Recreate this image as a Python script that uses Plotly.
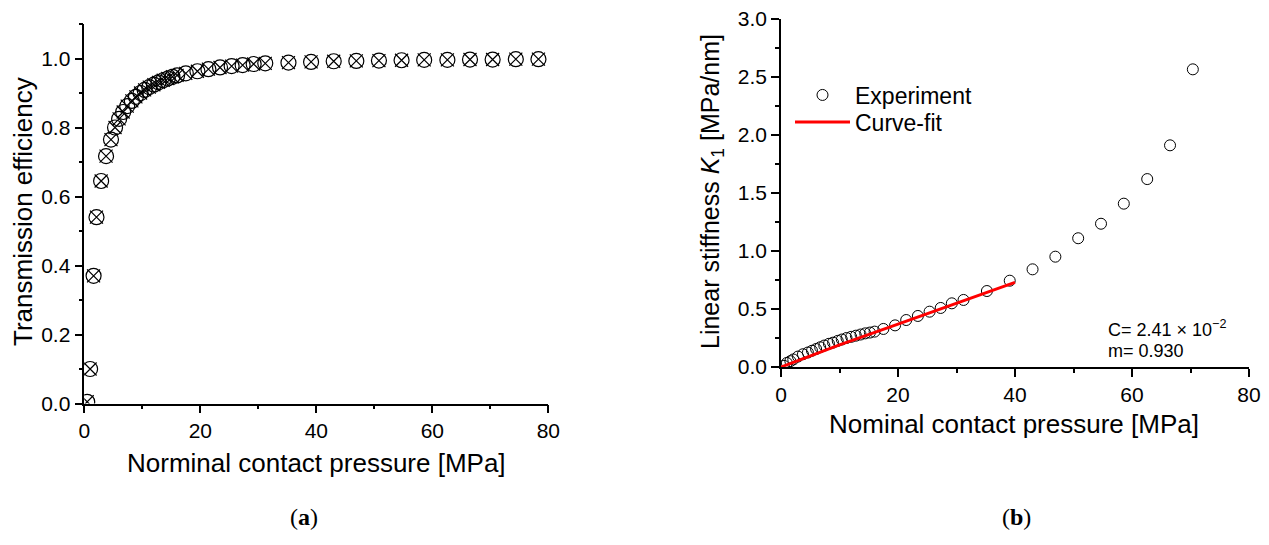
import plotly.graph_objects as go

# ---------------- data ----------------
pressure_a = [0.5, 1.0, 1.6, 2.1, 2.9, 3.75, 4.6, 5.3, 6.0, 6.7, 7.4, 8.2, 8.9, 9.7,
              10.4, 11.2, 12.0, 12.8, 13.6, 14.4, 15.2, 16.0, 17.5, 19.5, 21.4, 23.4,
              25.4, 27.3, 29.2, 31.2, 35.2, 39.1, 43.0, 46.9, 50.8, 54.7, 58.6, 62.6,
              66.5, 70.4, 74.4, 78.3]
efficiency = [0.005, 0.10, 0.37, 0.54, 0.645, 0.717, 0.765, 0.80, 0.825, 0.845, 0.862,
              0.877, 0.889, 0.900, 0.909, 0.917, 0.924, 0.931, 0.937, 0.942, 0.947,
              0.951, 0.957, 0.963, 0.969, 0.974, 0.978, 0.981, 0.984, 0.986, 0.988,
              0.990, 0.992, 0.993, 0.994, 0.995, 0.996, 0.996, 0.997, 0.997, 0.998, 0.998]

pressure_b = [0.5, 1.0, 1.6, 2.1, 2.9, 3.75, 4.6, 5.3, 6.0, 6.7, 7.4, 8.2, 8.9, 9.7,
              10.4, 11.2, 12.0, 12.8, 13.6, 14.4, 15.2, 16.0, 17.5, 19.5, 21.4, 23.4,
              25.4, 27.3, 29.2, 31.2, 35.2, 39.1, 43.0, 46.9, 50.8, 54.7, 58.6, 62.6,
              66.5, 70.4]
stiffness = [0.01, 0.035, 0.05, 0.065, 0.09, 0.11, 0.125, 0.14, 0.155, 0.17, 0.185,
             0.20, 0.21, 0.225, 0.237, 0.25, 0.26, 0.27, 0.28, 0.29, 0.297, 0.305,
             0.328, 0.359, 0.405, 0.44, 0.477, 0.509, 0.549, 0.578, 0.655, 0.744,
             0.842, 0.951, 1.11, 1.235, 1.408, 1.62, 1.911, 2.566]

fit_pressure = [0, 10, 20, 30, 40]
fit_stiffness = [0.0, 0.19, 0.37, 0.55, 0.73]

# ---------------- figure ----------------
W, H = 1269, 545
FONT = "Liberation Sans, Arial, sans-serif"
SERIF = "Liberation Serif, DejaVu Serif, serif"


def px_x(v):
    return v / W


def px_y(v):
    return (H - v) / H


fig = go.Figure()

# panel (a): two overlapping marker series (circle and x)
fig.add_trace(go.Scatter(x=pressure_a, y=efficiency, mode="markers", xaxis="x", yaxis="y",
                         marker=dict(symbol="circle-open", size=15, color="black",
                                     line=dict(width=1.2, color="black")),
                         showlegend=False, hoverinfo="skip"))
fig.add_trace(go.Scatter(x=pressure_a, y=efficiency, mode="markers", xaxis="x", yaxis="y",
                         marker=dict(symbol="x-thin-open", size=13, color="black",
                                     line=dict(width=1.2, color="black")),
                         showlegend=False, hoverinfo="skip"))

# panel (b)
fig.add_trace(go.Scatter(x=pressure_b, y=stiffness, mode="markers", xaxis="x2", yaxis="y2",
                         name="Experiment", legend="legend",
                         marker=dict(symbol="circle-open", size=11, color="black",
                                     line=dict(width=1, color="black"))))
fig.add_trace(go.Scatter(x=fit_pressure, y=fit_stiffness, mode="lines", xaxis="x2", yaxis="y2",
                         name="Curve-fit", legend="legend2",
                         line=dict(color="#ff0000", width=3)))

axis_common = dict(showline=True, linecolor="black", linewidth=1.5, ticks="outside",
                   ticklen=8, tickwidth=1.5, tickcolor="black", showgrid=False,
                   zeroline=False, automargin=False,
                   tickfont=dict(family=FONT, size=21, color="black"), mirror=False)
minor_common = dict(ticks="outside", ticklen=4, tickwidth=1.5, tickcolor="black")

legend_common = dict(xanchor="left", yanchor="middle", bgcolor="rgba(0,0,0,0)",
                     itemwidth=55, borderwidth=0,
                     font=dict(family=FONT, size=23, color="black"))

fig.update_layout(
    width=W, height=H,
    margin=dict(l=0, r=0, t=0, b=0, autoexpand=False),
    paper_bgcolor="white", plot_bgcolor="white",
    font=dict(family=FONT, color="black"),
    xaxis=dict(domain=[px_x(84.3), px_x(548.3)], range=[0, 80], dtick=20, anchor="y",
               minor=dict(dtick=10, **minor_common), **axis_common),
    yaxis=dict(domain=[px_y(403.5), px_y(24)], range=[0, 1.1], dtick=0.2,
               tickformat=".1f", anchor="x",
               minor=dict(dtick=0.1, **minor_common), **axis_common),
    xaxis2=dict(domain=[px_x(781), px_x(1249)], range=[0, 80], dtick=20, anchor="y2",
                minor=dict(dtick=10, **minor_common), **axis_common),
    yaxis2=dict(domain=[px_y(367), px_y(19)], range=[0, 3.0], dtick=0.5,
                tickformat=".1f", anchor="x2",
                minor=dict(dtick=0.25, **minor_common), **axis_common),
    legend=dict(x=px_x(790), y=px_y(95), **legend_common),
    legend2=dict(x=px_x(790), y=px_y(122), **legend_common),
)


def label(text, x, y, size, angle=0, family=FONT, xanchor="center"):
    return dict(text=text, x=px_x(x), y=px_y(y), xref="paper", yref="paper",
                xanchor=xanchor, yanchor="middle", textangle=angle, showarrow=False,
                font=dict(family=family, size=size, color="black"))


ann = [
    label("Transmission efficiency", 23, 212, 26, angle=-90),
    label("Norminal contact pressure [MPa]", 316, 463, 26),
    label("Linear stiffness <i>K</i><sub>1</sub> [MPa/nm]", 712, 192, 25, angle=-90),
    label("Nominal contact pressure [MPa]", 1014, 424, 26),
    label("C= 2.41 × 10<sup>−2</sup>", 1106, 328, 18, xanchor="left"),
    label("m= 0.930", 1106, 351, 18, xanchor="left"),
    label("(<b>a</b>)", 304, 517, 24, family=SERIF),
    label("(<b>b</b>)", 1016, 517, 24, family=SERIF),
]
fig.update_layout(annotations=ann)

fig.write_html("out.html")
